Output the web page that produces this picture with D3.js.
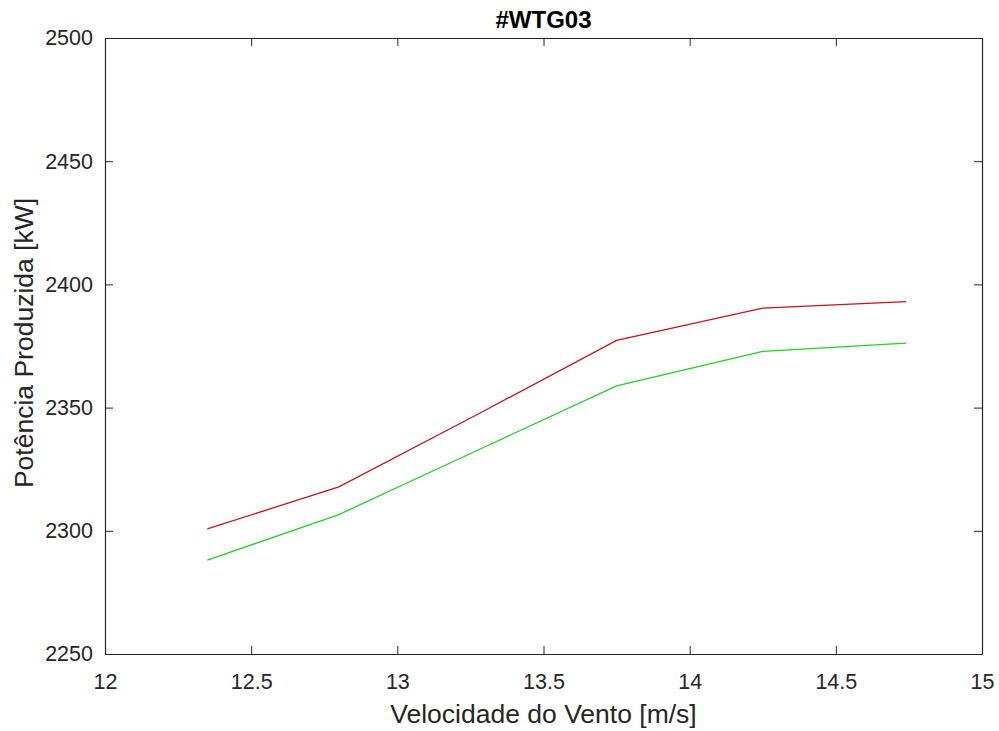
<!DOCTYPE html>
<html><head><meta charset="utf-8">
<script src="https://cdn.jsdelivr.net/npm/d3@7"></script>
<style>body{margin:0;background:#fff;}svg{display:block;font-family:"Liberation Sans",Arial,sans-serif;}</style>
</head><body><svg id="c" width="999" height="731"></svg>
<script>
const windSpeed = [12.35, 12.8, 13.28, 13.75, 14.25, 14.74];
const powerRed = [2300.8, 2317.8, 2347.6, 2377.3, 2390.4, 2393.0];
const powerGreen = [2288.1, 2306.6, 2333.0, 2358.8, 2372.8, 2376.2];
const xTicks = [12, 12.5, 13, 13.5, 14, 14.5, 15];
const yTicks = [2250, 2300, 2350, 2400, 2450, 2500];
const title = "#WTG03";
const xLabel = "Velocidade do Vento [m/s]";
const yLabel = "Potência Produzida [kW]";

const svg = d3.select("#c");
const L = 105, R = 982, T = 38, B = 654;
const x = d3.scaleLinear().domain([12, 15]).range([L, R]);
const y = d3.scaleLinear().domain([2250, 2500]).range([B, T]);
const axisCol = "#262626", tickLen = 8;

// lines
const line = d3.line().x((d, i) => x(windSpeed[i])).y(d => y(d));
svg.append("path").datum(powerGreen).attr("d", line).attr("fill", "none")
  .attr("stroke", "#22d022").attr("stroke-width", 1.3);
svg.append("path").datum(powerRed).attr("d", line).attr("fill", "none")
  .attr("stroke", "#c4141c").attr("stroke-width", 1.3);

// axes
const fmt = d => String(d);
const xb = svg.append("g").attr("transform", `translate(0,${B})`)
  .call(d3.axisBottom(x).tickValues(xTicks).tickFormat(fmt).tickSizeInner(-tickLen).tickSizeOuter(0).tickPadding(20));
const xt = svg.append("g").attr("transform", `translate(0,${T})`)
  .call(d3.axisTop(x).tickValues(xTicks).tickFormat("").tickSizeInner(-tickLen).tickSizeOuter(0));
const yl = svg.append("g").attr("transform", `translate(${L},0)`)
  .call(d3.axisLeft(y).tickValues(yTicks).tickFormat(fmt).tickSizeInner(-tickLen).tickSizeOuter(0).tickPadding(12));
const yr = svg.append("g").attr("transform", `translate(${R},0)`)
  .call(d3.axisRight(y).tickValues(yTicks).tickFormat("").tickSizeInner(-tickLen).tickSizeOuter(0));
[xb, xt, yl, yr].forEach(g => {
  g.select(".domain").attr("stroke", axisCol).attr("stroke-width", 1.2);
  g.selectAll(".tick line").attr("stroke", axisCol);
  g.selectAll("text").attr("fill", axisCol).style("font-size", "21.5px").style("font-family", '"Liberation Sans",Arial,sans-serif');
});

svg.append("text").attr("x", (L + R) / 2).attr("y", 28).attr("text-anchor", "middle")
  .style("font-size", "24px").style("font-weight", "bold").attr("fill", "#000").text(title);
svg.append("text").attr("x", (L + R) / 2).attr("y", 723).attr("text-anchor", "middle")
  .style("font-size", "26.5px").attr("fill", axisCol).text(xLabel);
svg.append("text").attr("transform", `translate(33,343) rotate(-90)`).attr("text-anchor", "middle")
  .style("font-size", "26.5px").attr("fill", axisCol).text(yLabel);
</script></body></html>
